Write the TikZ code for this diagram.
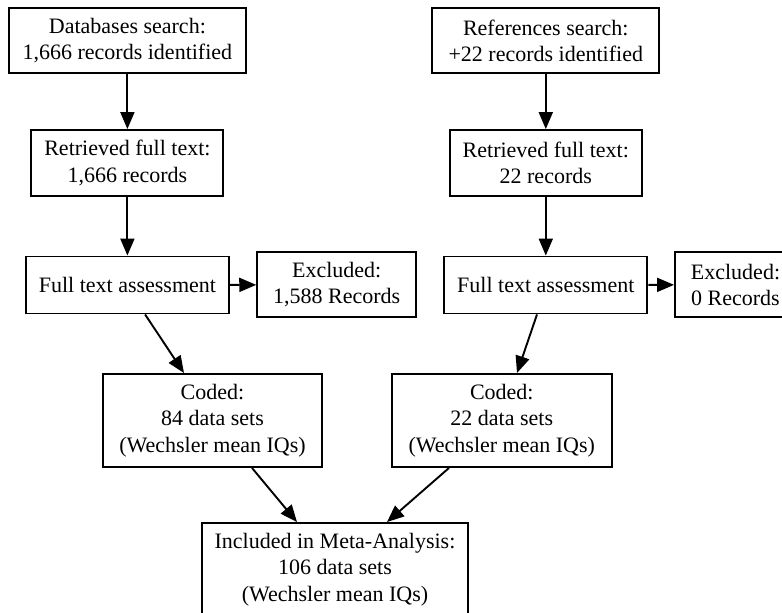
\documentclass[tikz,border=0pt]{standalone}
\usepackage{fontspec}
\setmainfont{Liberation Serif}
\usetikzlibrary{arrows.meta}
\begin{document}
\begin{tikzpicture}[x=1pt,y=-1pt,
 font=\fontsize{22}{26.5}\selectfont,
 box/.style={draw,line width=1.9pt,inner sep=0pt,align=center},
 arr/.style={line width=1.9pt,-{Triangle[length=17pt,width=14pt]}}]
\useasboundingbox (0,0) rectangle (782,613);
\clip (0,0) rectangle (782,613);
% left column
\node[box,minimum width=237pt,minimum height=65pt] (dbs) at (127.4,40.7) {Databases search:\\1,666 records identified};
\node[box,minimum width=192pt,minimum height=66pt] (retL) at (127.4,163) {Retrieved full text:\\1,666 records};
\node[box,minimum width=203pt,minimum height=57pt] (ftaL) at (127.4,285) {Full text assessment};
\node[box,minimum width=159pt,minimum height=65pt] (exclL) at (336.7,284.8) {Excluded:\\1,588 Records};
\node[box,minimum width=219pt,minimum height=93pt] (codL) at (212.5,420.5) {Coded:\\84 data sets\\(Wechsler mean IQs)};
% right column
\node[box,minimum width=227pt,minimum height=65pt] (refs) at (545.8,40.7) {References search:\\+22 records identified};
\node[box,minimum width=192pt,minimum height=66pt] (retR) at (545.8,163) {Retrieved full text:\\22 records};
\node[box,minimum width=203pt,minimum height=57pt] (ftaR) at (545.8,285) {Full text assessment};
\node[box,minimum width=121pt,minimum height=65pt] (exclR) at (735.5,284.8) {Excluded:\\0 Records};
\node[box,minimum width=220pt,minimum height=93pt] (codR) at (501.8,420.5) {Coded:\\22 data sets\\(Wechsler mean IQs)};
% bottom
\node[box,minimum width=266pt,minimum height=93pt] (incl) at (335,569.5) {Included in Meta-Analysis:\\106 data sets\\(Wechsler mean IQs)};

\draw[arr] (dbs) -- (retL);
\draw[arr] (retL) -- (ftaL);
\draw[arr] (ftaL) -- (exclL);
\draw[arr] (refs) -- (retR);
\draw[arr] (retR) -- (ftaR);
\draw[arr] (ftaR) -- (exclR);
\draw[arr] ([xshift=17.7pt]ftaL.south) -- ([xshift=-28.5pt]codL.north);
\draw[arr] ([xshift=-8.8pt]ftaR.south) -- ([xshift=15.2pt]codR.north);
\draw[arr] ([xshift=39.5pt]codL.south) -- ([xshift=-38pt]incl.north);
\draw[arr] ([xshift=-52.8pt]codR.south) -- ([xshift=52pt]incl.north);
\end{tikzpicture}
\end{document}
